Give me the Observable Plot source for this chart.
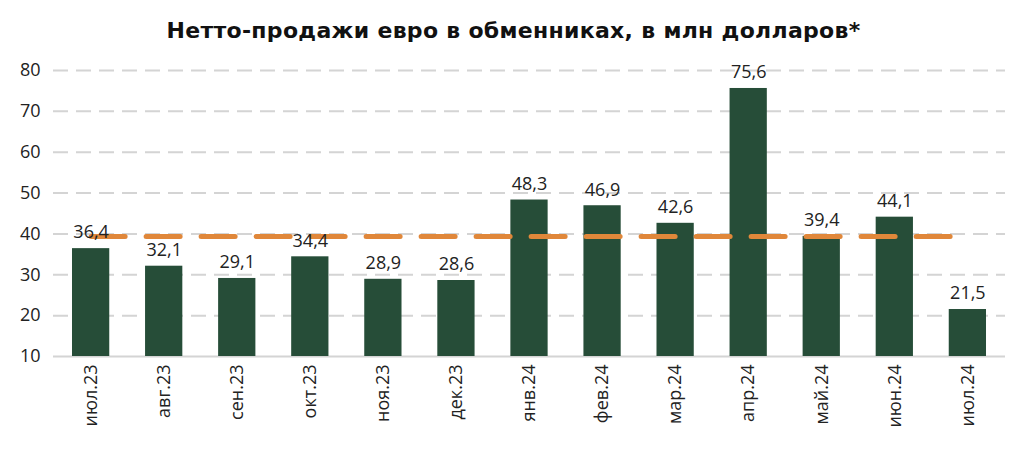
<!DOCTYPE html>
<html><head><meta charset="utf-8">
<script src="https://cdn.jsdelivr.net/npm/d3@7"></script>
<script src="https://cdn.jsdelivr.net/npm/@observablehq/plot@0.6"></script>
<style>
body{margin:0;background:#fff;font-family:"Open Sans",sans-serif;}
#title{height:52px;box-sizing:border-box;padding-top:18px;text-align:center;font-family:"DejaVu Sans",sans-serif;font-weight:700;font-size:22px;letter-spacing:0.3px;line-height:26px;color:#111;}
</style></head><body>
<div id="title">Нетто-продажи евро в обменниках, в млн долларов*</div>
<div id="chart"></div>
<script>
const months = ["июл.23","авг.23","сен.23","окт.23","ноя.23","дек.23","янв.24","фев.24","мар.24","апр.24","май.24","июн.24","июл.24"];
const values = [36.4,32.1,29.1,34.4,28.9,28.6,48.3,46.9,42.6,75.6,39.4,44.1,21.5];
const average = 39.4;
const yTicks = [10,20,30,40,50,60,70,80];

const data = months.map((m,i)=>({month:m,value:values[i]}));
const fmt = v => v.toFixed(1).replace(".", ",");

const plot = Plot.plot({
  width: 1027, height: 398,
  marginTop: 18, marginBottom: 94, marginLeft: 53, marginRight: 22,
  style: {fontFamily: "Open Sans, sans-serif", fontSize: "18px", color: "#222"},
  x: {domain: months, paddingInner: 0.49, paddingOuter: 0.26, round: false, label: null},
  y: {domain: [10, 80], label: null},
  marks: [
    Plot.ruleY(yTicks.filter(t=>t>10), {stroke: "#d4d4d4", strokeWidth: 2, strokeDasharray: "15,8"}),
    Plot.ruleY([10], {stroke: "#d4d4d4", strokeWidth: 2}),
    Plot.barY(data, {x: "month", y1: 10, y2: "value", fill: "#264d38"}),
    Plot.lineY(months.map(m=>({month:m, v: average})), {x: "month", y: "v", stroke: "#e0873a", strokeWidth: 5, strokeDasharray: "34,21", strokeLinecap: "round"}),
    Plot.text(data, {x: "month", y: "value", text: d=>fmt(d.value), dy: -16, fontSize: 18, fill: "#222"}),
    Plot.axisY({ticks: yTicks, tickSize: 0, tickPadding: 13, fontSize: 18, fill: "#222"}),
    Plot.axisX({tickSize: 0, tickRotate: -90, tickPadding: 8, fontSize: 18, fill: "#222"})
  ]
});
document.getElementById("chart").appendChild(plot);
</script>
</body></html>
